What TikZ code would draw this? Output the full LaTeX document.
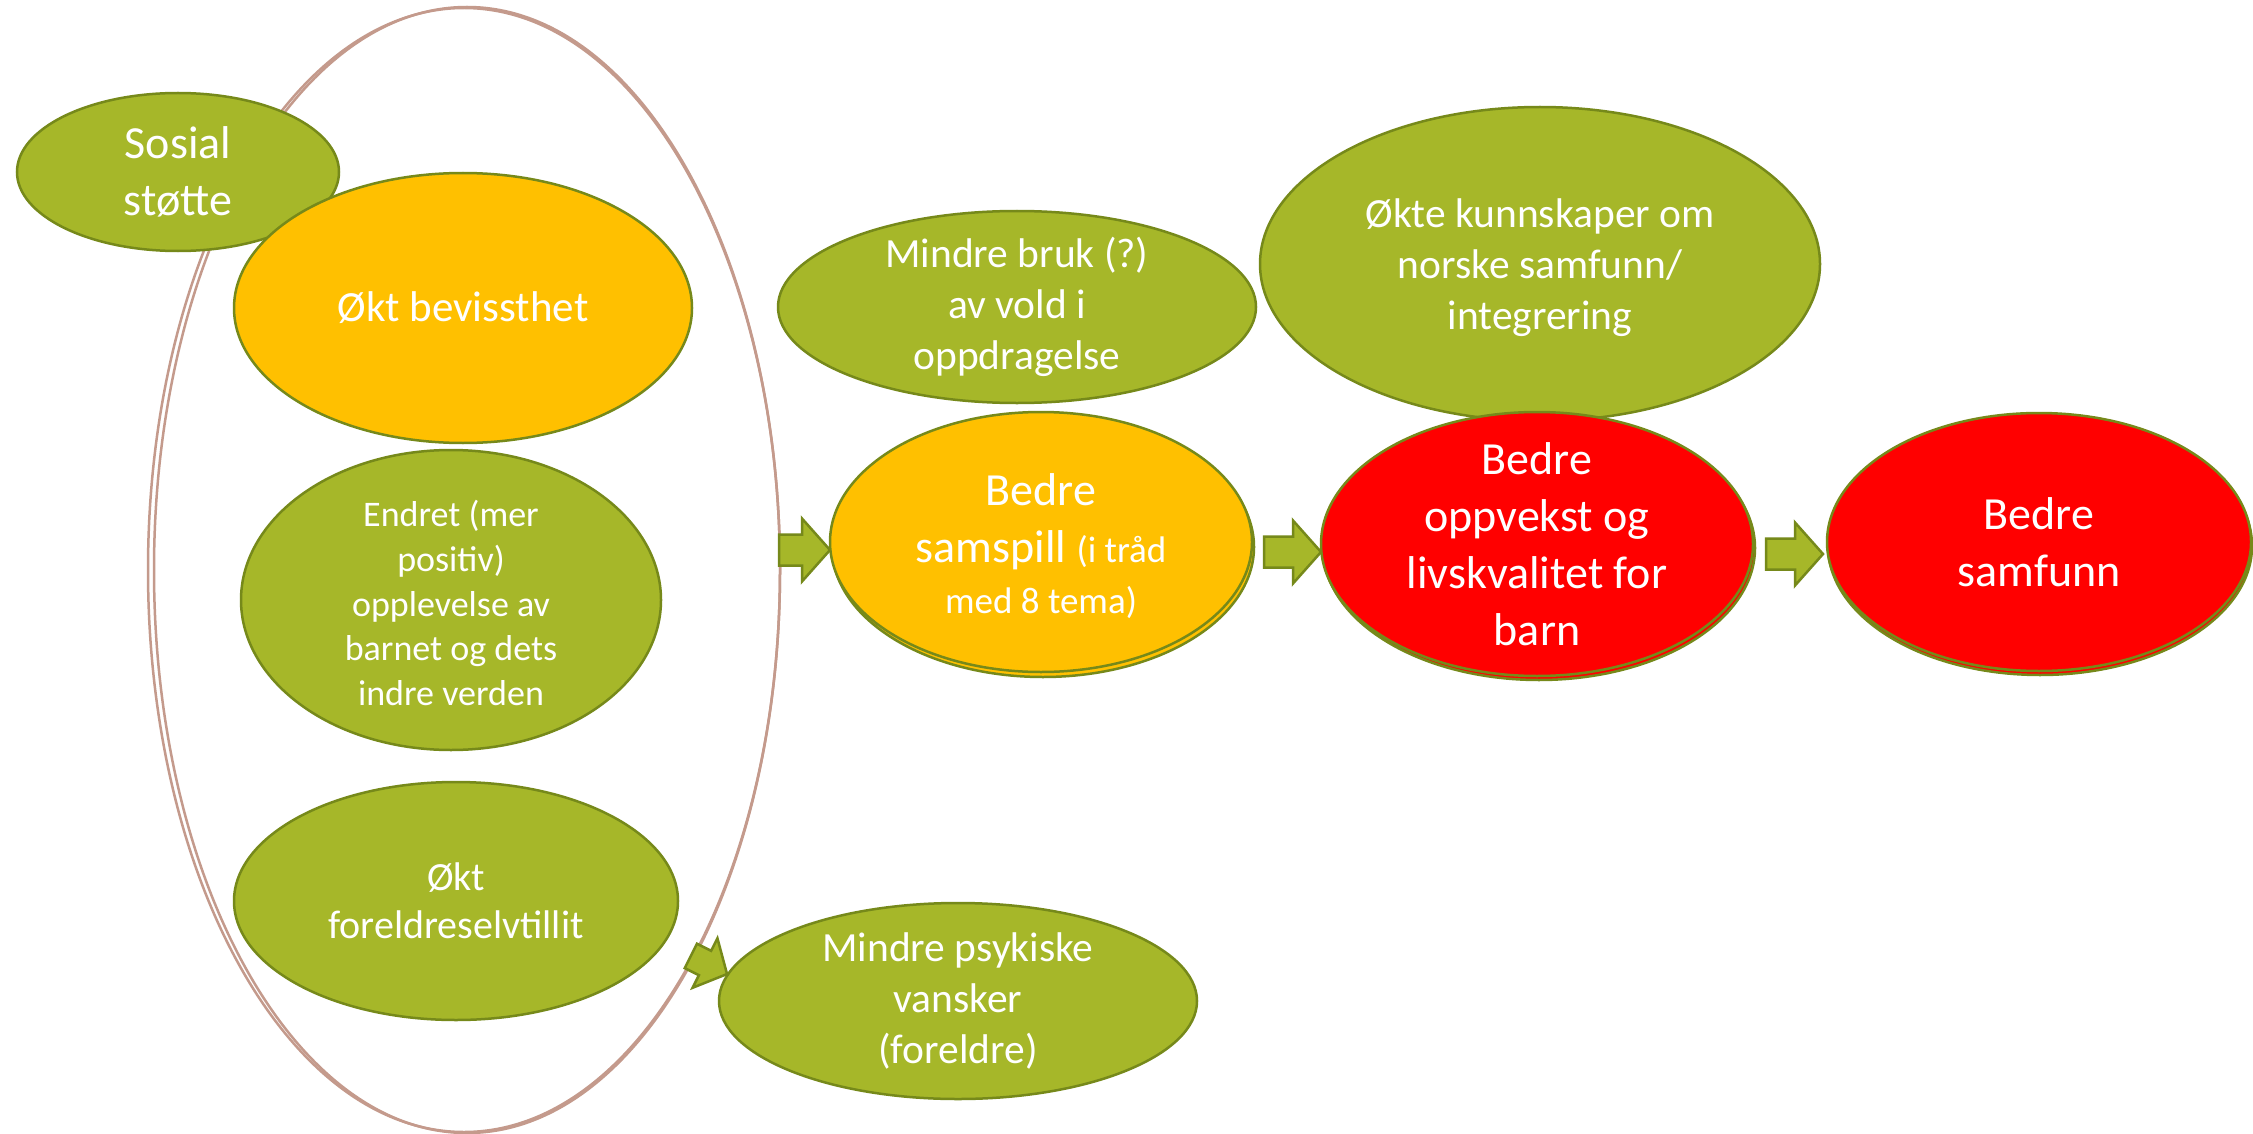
\documentclass[tikz,border=0pt]{standalone}
\usepackage{fontspec}
\setmainfont{Carlito}
\usetikzlibrary{shapes.geometric}
\definecolor{gfill}{RGB}{166,183,41}
\definecolor{gline}{RGB}{118,137,26}
\definecolor{ofill}{RGB}{255,192,0}
\definecolor{rfill}{RGB}{255,0,0}
\definecolor{bline}{RGB}{196,154,140}
\tikzset{
  bubble/.style={ellipse, draw=gline, line width=2.5pt, inner sep=0pt},
  txt/.style={text=white, align=center, inner sep=0pt},
  fbig/.style={font=\fontsize{46}{57}\selectfont},
  fmid/.style={font=\fontsize{41.5}{51}\selectfont},
  fsmall/.style={font=\fontsize{36}{44.6}\selectfont},
  blockarr/.style={fill=gfill, draw=gline, line width=2.5pt, line join=miter},
  outline/.style={draw=bline, line width=2.5pt},
  pics/barrow/.style={code={
    \draw[blockarr] (-#1,-15.5) -- (0,-15.5) -- (0,-31.5) -- (28,0) -- (0,31.5) -- (0,15.5) -- (-#1,15.5) -- cycle;}}
}
\begin{document}
\begin{tikzpicture}[x=1pt,y=-1pt]
\useasboundingbox[fill=white] (0,0) rectangle (2253,1134);
% large enclosing ellipse (double outline on the left)
\draw[outline] (467,570) ellipse [x radius=313, y radius=563];
\draw[outline] (464,570) ellipse [x radius=316, y radius=562];

% arrows
\pic at (802,550) {barrow=23};
\pic at (1293,552) {barrow=29};
\pic at (1795,554) {barrow=29};
\pic[rotate=-26.6, scale=0.88] at (705,963) {barrow=18};

% left group
\node[bubble, fill=gfill, minimum width=322pt, minimum height=158pt] (sos) at (178,172) {};
\node[txt, fbig] (sos-t) at (sos) {Sosial\\støtte};
\node[bubble, fill=ofill, minimum width=458pt, minimum height=270pt] (bev) at (463,308) {};
\node[txt, font=\fontsize{43}{53}\selectfont] (bev-t) at (bev) {Økt bevissthet};
\node[bubble, fill=gfill, minimum width=420pt, minimum height=300pt] (endr) at (451,600) {};
\node[txt, fsmall] (endr-t) at ([yshift=-3pt]endr) {Endret (mer\\positiv)\\opplevelse av\\barnet og dets\\indre verden};
\node[bubble, fill=gfill, minimum width=444pt, minimum height=238pt] (self) at (456,901) {};
\node[txt, font=\fontsize{40}{48}\selectfont] (self-t) at (self) {Økt\\foreldreselvtillit};

% middle
\node[bubble, fill=gfill, minimum width=478pt, minimum height=192pt] (vold) at (1017,307) {};
\node[txt, fmid] (vold-t) at (vold) {Mindre bruk (?)\\av vold i\\oppdragelse};
\node[bubble, fill=gfill, minimum width=478pt, minimum height=196pt] (psyk) at (958,1001) {};
\node[txt, fmid] (psyk-t) at (psyk) {Mindre psykiske\\vansker\\(foreldre)};
\node[bubble, fill=gfill, minimum width=560pt, minimum height=314pt] (kunn) at (1540,264) {};
\node[txt, fmid] (kunn-t) at ([yshift=-4pt]kunn) {Økte kunnskaper om\\norske samfunn/\\integrering};

\node[bubble, fill=ofill, minimum width=422pt, minimum height=260pt] (samsp-s) at (1043,547) {};
\node[bubble, fill=ofill, minimum width=422pt, minimum height=260pt] (samsp) at (1041,542) {};
\node[txt, fbig] (samsp-t) at ([yshift=-4pt]samsp) {Bedre\\samspill {\fontsize{37}{44}\selectfont (i tråd}\\[-6pt]{\fontsize{37}{44}\selectfont med 8 tema)}};

% red
\node[bubble, fill=rfill, minimum width=432pt, minimum height=264pt] (oppv-s) at (1539,548) {};
\node[bubble, fill=rfill, minimum width=432pt, minimum height=264pt] (oppv) at (1537,544) {};
\node[txt, fbig] (oppv-t) at (oppv) {Bedre\\oppvekst og\\livskvalitet for\\barn};
\node[bubble, fill=rfill, minimum width=424pt, minimum height=258pt] (samf-s) at (2040,546) {};
\node[bubble, fill=rfill, minimum width=424pt, minimum height=258pt] (samf) at (2039,542) {};
\node[txt, fbig] (samf-t) at (samf) {Bedre\\samfunn};
\end{tikzpicture}
\end{document}
